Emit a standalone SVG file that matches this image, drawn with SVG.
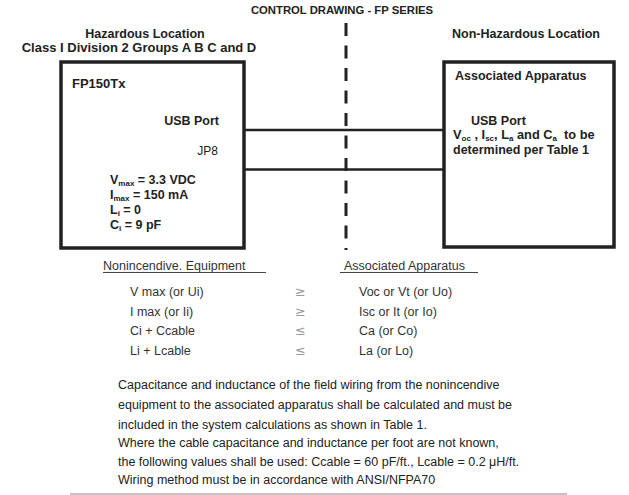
<svg xmlns="http://www.w3.org/2000/svg" width="629" height="495" viewBox="0 0 629 495">
<style>
.b{font-family:"Liberation Sans",Arial,sans-serif;font-weight:bold;fill:#222}
.r{font-family:"Liberation Sans",Arial,sans-serif;fill:#333}
.box{fill:#fff;stroke:#222;stroke-width:3.5}
.wire{stroke:#222;stroke-width:2.5;fill:none}
.sub{font-size:8px}
.sym{font-family:"DejaVu Sans",sans-serif;font-size:13px;fill:#999}
</style>
<rect width="629" height="495" fill="#fff"/>
<text class="b" x="342" y="13.5" font-size="11.3" text-anchor="middle">CONTROL DRAWING - FP SERIES</text>
<text class="b" x="145" y="38" font-size="12.5" text-anchor="middle">Hazardous Location</text>
<text class="b" x="139" y="52" font-size="13" text-anchor="middle">Class I Division 2 Groups A B C and D</text>
<text class="b" x="526" y="38" font-size="12.5" text-anchor="middle">Non-Hazardous Location</text>
<line x1="346" y1="23" x2="346" y2="250" stroke="#222" stroke-width="3" stroke-dasharray="13 9.5"/>
<g id="connectors">
<line class="wire" x1="245" y1="130" x2="444" y2="130"/>
<line class="wire" x1="245" y1="169.5" x2="444" y2="169.5"/>
</g>
<g id="fp150tx">
<rect class="box" x="61" y="62" width="183" height="186"/>
<text class="b" x="72" y="88" font-size="13">FP150Tx</text>
<text class="b" x="219" y="125" font-size="12.5" text-anchor="end">USB Port</text>
<text class="r" x="218" y="155" font-size="12" text-anchor="end" style="fill:#222">JP8</text>
<text class="b" x="110" y="184" font-size="12.5">V<tspan class="sub" dy="2">max</tspan><tspan dy="-2"> = 3.3 VDC</tspan></text>
<text class="b" x="110" y="199" font-size="12.5">I<tspan class="sub" dy="2">max</tspan><tspan dy="-2"> = 150 mA</tspan></text>
<text class="b" x="110" y="214" font-size="12.5">L<tspan class="sub" dy="2">i</tspan><tspan dy="-2"> = 0</tspan></text>
<text class="b" x="110" y="229" font-size="12.5">C<tspan class="sub" dy="2">i</tspan><tspan dy="-2"> = 9 pF</tspan></text>
</g>
<g id="associated">
<rect class="box" x="444" y="62" width="170" height="185"/>
<text class="b" x="455" y="80" font-size="12.5">Associated Apparatus</text>
<text class="b" x="471" y="125" font-size="12.5">USB Port</text>
<text class="b" x="453" y="139" font-size="12.8">V<tspan class="sub" dy="2">oc</tspan><tspan dy="-2"> , I</tspan><tspan class="sub" dy="2">sc</tspan><tspan dy="-2">, L</tspan><tspan class="sub" dy="2">a</tspan><tspan dy="-2"> and C</tspan><tspan class="sub" dy="2">a</tspan><tspan dy="-2" xml:space="preserve">  to be</tspan></text>
<text class="b" x="453" y="154" font-size="12.5">determined per Table 1</text>
</g>
<g id="table" font-size="12.5">
<text class="r" x="103" y="270">Nonincendive. Equipment</text>
<line x1="103" y1="272.5" x2="266" y2="272.5" stroke="#444" stroke-width="1.2"/>
<text class="r" x="344" y="270">Associated Apparatus</text>
<line x1="340" y1="272.5" x2="478" y2="272.5" stroke="#444" stroke-width="1.2"/>
<text class="r" x="130" y="296">V max (or Ui)</text>
<text class="r" x="130" y="316">I max (or Ii)</text>
<text class="r" x="130" y="335">Ci + Ccable</text>
<text class="r" x="130" y="355">Li + Lcable</text>
<text class="sym" x="295" y="296">≥</text>
<text class="sym" x="295" y="316">≥</text>
<text class="sym" x="295" y="335">≤</text>
<text class="sym" x="295" y="355">≤</text>
<text class="r" x="359" y="296">Voc or Vt (or Uo)</text>
<text class="r" x="359" y="316">Isc or It (or Io)</text>
<text class="r" x="359" y="335">Ca (or Co)</text>
<text class="r" x="359" y="355">La (or Lo)</text>
</g>
<g id="notes" font-size="12.5">
<text class="r" x="118" y="389" style="fill:#222">Capacitance and inductance of the field wiring from the nonincendive</text>
<text class="r" x="118" y="409" style="fill:#222">equipment to the associated apparatus shall be calculated and must be</text>
<text class="r" x="118" y="429" style="fill:#222">included in the system calculations as shown in Table 1.</text>
<text class="r" x="118" y="447" style="fill:#222">Where the cable capacitance and inductance per foot are not known,</text>
<text class="r" x="118" y="466" style="fill:#222">the following values shall be used: Ccable = 60 pF/ft., Lcable = 0.2 μH/ft.</text>
<text class="r" x="118" y="484" style="fill:#222">Wiring method must be in accordance with ANSI/NFPA70</text>
</g>
<line x1="70" y1="494" x2="567" y2="494" stroke="#888" stroke-width="1.2"/>
</svg>
